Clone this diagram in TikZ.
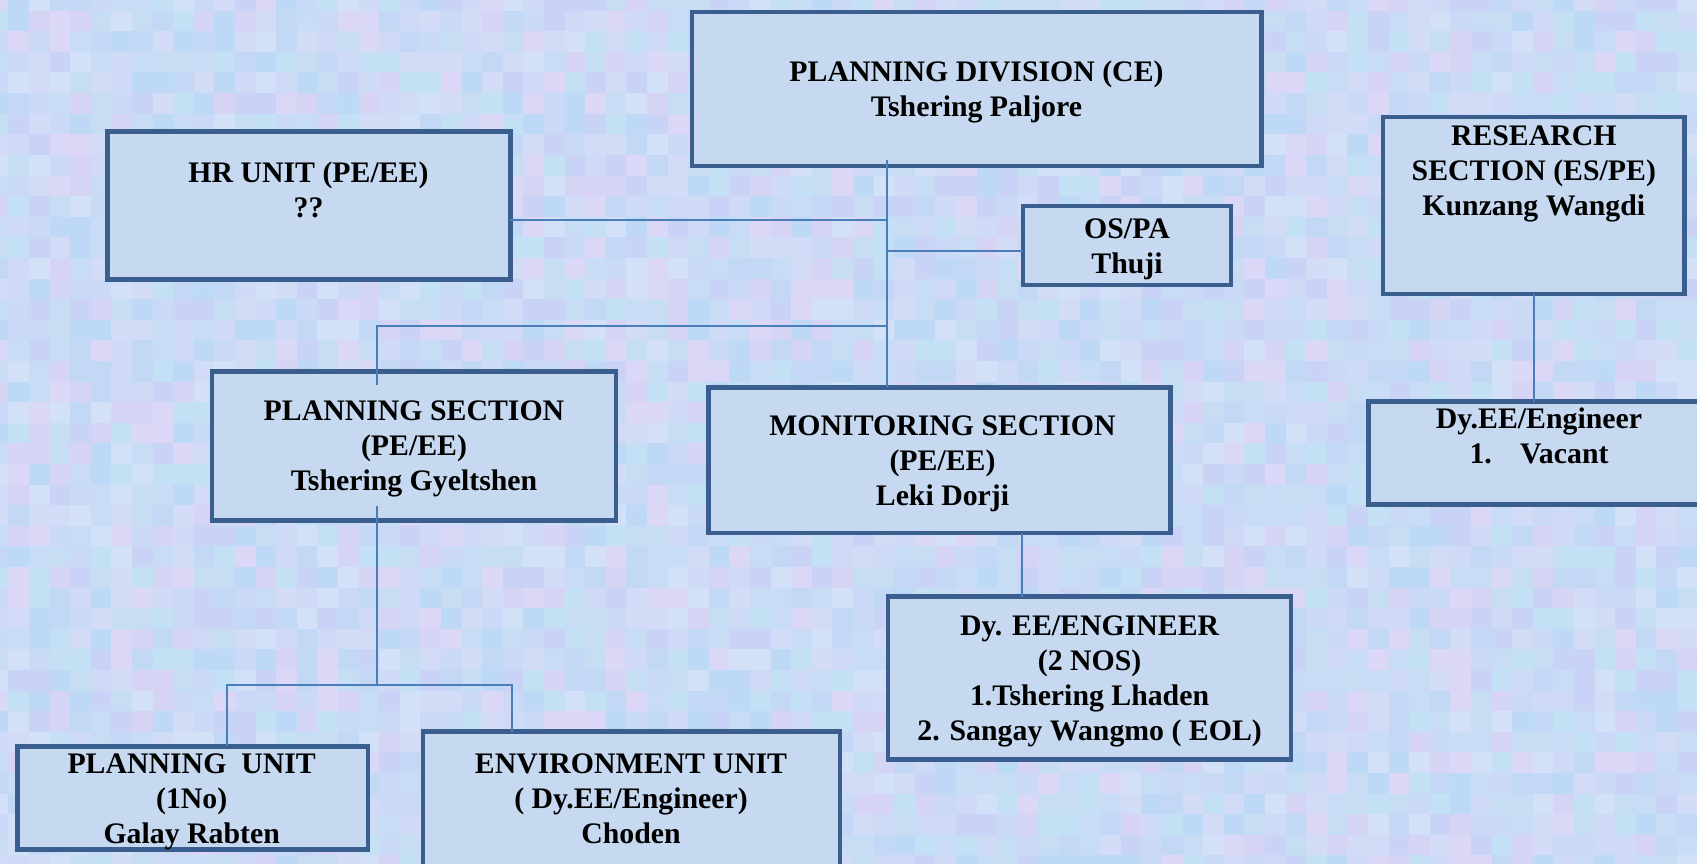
\documentclass[tikz,border=0pt]{standalone}
\usepackage{fontspec}
\setmainfont{Liberation Serif}
% box and connector colours
\definecolor{boxfill}{HTML}{C6D9F0}
\definecolor{boxline}{HTML}{3A5F8E}
\definecolor{linkblue}{HTML}{4A7EBB}
% mosaic palette
\definecolor{bg1}{HTML}{C8DCF6}
\definecolor{bg2}{HTML}{CEDAF6}
\definecolor{bg3}{HTML}{D3DCF7}
\definecolor{bg4}{HTML}{C3D8F5}
\definecolor{bg5}{HTML}{BED9F6}
\definecolor{bg6}{HTML}{D6D4F4}
\definecolor{bg7}{HTML}{DAD8F6}
\definecolor{bg8}{HTML}{C8D3F6}
\definecolor{bg9}{HTML}{C3E0F5}
\definecolor{bg10}{HTML}{D2E1F8}
\definecolor{bg11}{HTML}{CAD9F5}
\definecolor{bg12}{HTML}{C6DDF4}
\begin{document}
\begin{tikzpicture}[x=1pt,y=-1pt,
  box/.style={draw=boxline, line width=4.5pt, fill=boxfill, inner sep=0pt, outer sep=0pt},
  boxtext/.style={anchor=north, align=center, inner sep=0pt, text=black,
    font=\fontsize{29.8}{35}\selectfont\bfseries,
    execute at begin node={\rule{0pt}{22pt}}},
  link/.style={draw=linkblue, line width=1.8pt}
]
\useasboundingbox (0,0) rectangle (1697,864);
\clip (0,0) rectangle (1697,864);

% pastel mosaic backdrop
\pgfmathsetseed{4242}
\foreach \i in {0,...,83} {
  \foreach \j in {0,...,42} {
    \pgfmathrandominteger{\c}{1}{12}
    \fill[bg\c] (-12.3+20.6*\i, -9.9+20.6*\j) rectangle +(20.8,20.8);
  }
}

% boxes
\node[box, minimum width=569.5pt, minimum height=153.5pt] (pd)   at (976.5, 89)   {};
\node[box, minimum width=403pt,   minimum height=148pt]   (hr)   at (308.9, 205.5) {};
\node[box, minimum width=208pt,   minimum height=79pt]    (ospa) at (1127, 245.7)  {};
\node[box, minimum width=301.5pt, minimum height=177pt]   (rs)   at (1533.7, 205.4) {};
\node[box, minimum width=404pt,   minimum height=149pt]   (ps)   at (414.2, 446)   {};
\node[box, minimum width=462pt,   minimum height=145.5pt] (ms)   at (939.4, 460)   {};
\node[box, minimum width=341.5pt, minimum height=103pt]   (rdy)  at (1539, 453)    {};
\node[box, minimum width=403pt,   minimum height=163pt]   (mdy)  at (1089.7, 678.1) {};
\node[box, minimum width=350.5pt, minimum height=103pt]   (pu)   at (192.5, 797.9) {};
\node[box, minimum width=417pt,   minimum height=146pt]   (eu)   at (631.4, 804.7) {};

% texts
\node[boxtext] (pd-t)   at (976.5, 61)    {PLANNING DIVISION (CE)\\Tshering Paljore};
\node[boxtext] (hr-t)   at (308.5, 161.6) {HR UNIT (PE/EE)\\??};
\node[boxtext] (ospa-t) at (1127, 218.7)  {OS/PA\\Thuji};
\node[boxtext] (rs-t)   at (1533.8, 125.9) {RESEARCH\\SECTION (ES/PE)\\Kunzang Wangdi};
\node[boxtext] (ps-t)   at (414, 400.4)   {PLANNING SECTION\\(PE/EE)\\Tshering Gyeltshen};
\node[boxtext] (ms-t)   at (942.5, 415.4) {MONITORING SECTION\\(PE/EE)\\Leki Dorji};
\node[boxtext] (rdy-t)  at (1539, 407.9)  {Dy.EE/Engineer\\1.\hspace{0.95em}Vacant};
\node[boxtext] (mdy-t)  at (1089.6, 615.4) {Dy. EE/ENGINEER\\(2 NOS)\\1.Tshering Lhaden\\2. Sangay Wangmo ( EOL)};
\node[boxtext] (pu-t)   at (191.7, 753.4) {PLANNING\ \ UNIT\\(1No)\\Galay Rabten};
\node[boxtext] (eu-t)   at (631, 753.4)   {ENVIRONMENT UNIT\\( Dy.EE/Engineer)\\Choden};

% reference lines for the connector runs
\coordinate (tk)    at (886.8, 0);
\coordinate (hrY)   at (0, 220.3);
\coordinate (osY)   at (0, 250.7);
\coordinate (psY)   at (0, 326);
\coordinate (psX)   at (376.7, 0);
\coordinate (unitY) at (0, 685.3);
\coordinate (puX)   at (226.7, 0);
\coordinate (euX)   at (512, 0);
\coordinate (mX)    at (1022.3, 0);

% connectors
\draw[link] ([yshift=6pt]pd.south -| tk) -- (ms.north -| tk);
\draw[link] (hr.east |- hrY) -- (tk |- hrY);
\draw[link] (tk |- osY) -- (ospa.west |- osY);
\draw[link] (tk |- psY) -- (psX |- psY) -- ([yshift=-13.5pt]ps.north -| psX);
\draw[link] ([yshift=14.5pt]ps.south -| psX) -- (psX |- unitY);
\draw[link] (pu.north -| puX) -- (puX |- unitY) -- (euX |- unitY) -- (eu.north -| euX);
\draw[link] (ms.south -| mX) -- (mdy.north -| mX);
\draw[link] (rs.south) -- (rdy.north -| rs.south);
\end{tikzpicture}
\end{document}
